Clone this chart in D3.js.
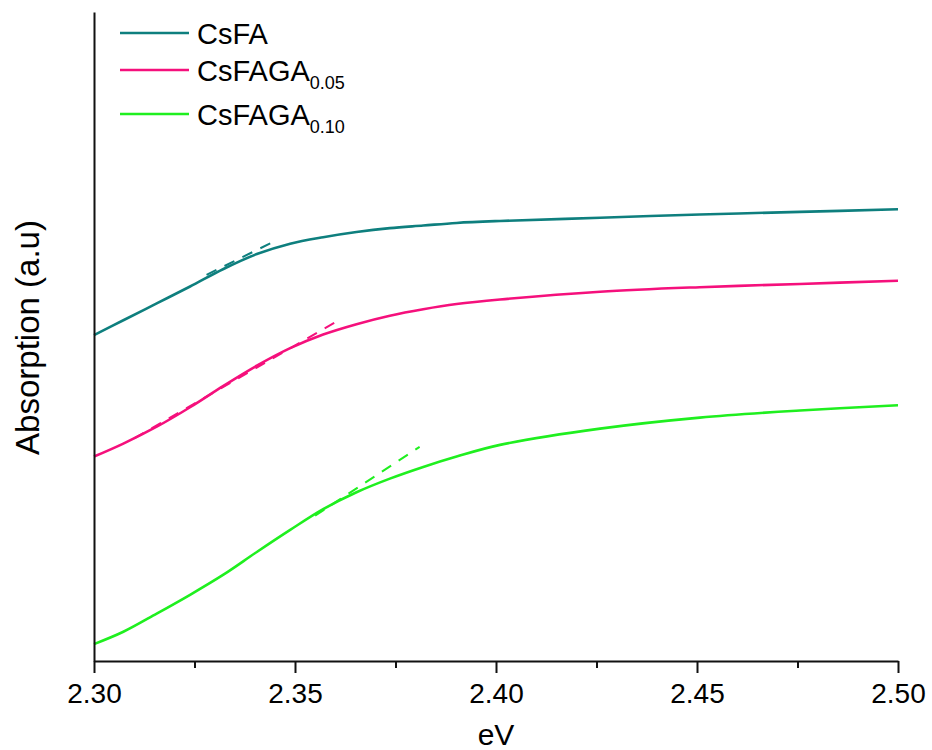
<!DOCTYPE html>
<html>
<head>
<meta charset="utf-8">
<script src="https://cdn.jsdelivr.net/npm/d3@7"></script>
<style>
  html, body { margin: 0; padding: 0; background: #fff; }
  svg { display: block; font-family: "Liberation Sans", Arial, sans-serif; }
</style>
</head>
<body>
<svg id="chart" width="932" height="750"></svg>
<script>
// ---- data ----
const energy = [2.3000, 2.3073, 2.3156, 2.3239, 2.3322, 2.3405, 2.3488, 2.3570, 2.3653, 2.3736, 2.3819, 2.3902, 2.4010, 2.4259, 2.4507, 2.4756, 2.5000];
const csFA      = [0.502, 0.525, 0.551, 0.577, 0.604, 0.627, 0.643, 0.653, 0.661, 0.667, 0.671, 0.675, 0.678, 0.683, 0.688, 0.692, 0.696];
const csFAGA005 = [0.315, 0.335, 0.361, 0.391, 0.424, 0.455, 0.482, 0.503, 0.519, 0.532, 0.542, 0.550, 0.557, 0.569, 0.576, 0.581, 0.586];
const csFAGA010 = [0.026, 0.045, 0.073, 0.102, 0.133, 0.168, 0.202, 0.234, 0.260, 0.281, 0.299, 0.315, 0.333, 0.358, 0.375, 0.386, 0.394];

// linear fits (band-edge tangents): [start eV, end eV], [start value, end value]
const fitCsFA_x      = [2.328, 2.344];
const fitCsFA_y      = [0.595, 0.644];
const fitCsFAGA005_x = [2.310, 2.360];
const fitCsFAGA005_y = [0.343, 0.522];
const fitCsFAGA010_x = [2.355, 2.381];
const fitCsFAGA010_y = [0.224, 0.330];

const seriesNames = ["CsFA", "CsFAGA", "CsFAGA"];
const seriesSubs  = ["", "0.05", "0.10"];
const seriesColors = ["#0e7f7e", "#f5107c", "#1fef1f"];

const xMajorTicks = [2.30, 2.35, 2.40, 2.45, 2.50];
const xMinorTicks = [2.325, 2.375, 2.425, 2.475];
const xLabel = "eV";
const yLabel = "Absorption (a.u)";

// ---- layout ----
const svg = d3.select("#chart");
const mLeft = 94, mRight = 898, mTop = 12, mBottom = 661;

const x = d3.scaleLinear().domain([2.30, 2.50]).range([mLeft, mRight]);
const y = d3.scaleLinear().domain([0, 1]).range([mBottom, mTop]);

const series = [csFA, csFAGA005, csFAGA010];
const fits = [
  [fitCsFA_x, fitCsFA_y],
  [fitCsFAGA005_x, fitCsFAGA005_y],
  [fitCsFAGA010_x, fitCsFAGA010_y]
];

const line = d3.line()
  .x(d => x(d[0]))
  .y(d => y(d[1]))
  .curve(d3.curveCatmullRom.alpha(0.5));

// curves
series.forEach((vals, i) => {
  svg.append("path")
    .datum(energy.map((e, k) => [e, vals[k]]))
    .attr("d", line)
    .attr("fill", "none")
    .attr("stroke", seriesColors[i])
    .attr("stroke-width", 2.6)
    .attr("stroke-linejoin", "round");
});

// dashed fit lines
fits.forEach((f, i) => {
  svg.append("path")
    .datum(f[0].map((e, k) => [e, f[1][k]]))
    .attr("d", d3.line().x(d => x(d[0])).y(d => y(d[1])))
    .attr("fill", "none")
    .attr("stroke", seriesColors[i])
    .attr("stroke-width", 2)
    .attr("stroke-dasharray", "11,9");
});

// axes
const xAxis = svg.append("g")
  .attr("transform", `translate(0,${mBottom})`)
  .call(d3.axisBottom(x).tickValues(xMajorTicks).tickFormat(d3.format(".2f")).tickSize(12).tickSizeOuter(0).tickPadding(10));
xAxis.select(".domain").attr("stroke", "#111").attr("stroke-width", 2);
xAxis.selectAll(".tick line").attr("stroke", "#111").attr("stroke-width", 2);
xAxis.selectAll(".tick text").attr("font-size", 28).attr("fill", "#000")
  .attr("font-family", "'Liberation Sans', Arial, sans-serif");

const xMinor = svg.append("g")
  .attr("transform", `translate(0,${mBottom})`)
  .call(d3.axisBottom(x).tickValues(xMinorTicks).tickSize(7).tickSizeOuter(0).tickFormat(""));
xMinor.select(".domain").remove();
xMinor.selectAll(".tick line").attr("stroke", "#111").attr("stroke-width", 2);

const yAxis = svg.append("g")
  .attr("transform", `translate(${mLeft},0)`)
  .call(d3.axisLeft(y).tickValues([]).tickSizeOuter(0));
yAxis.select(".domain").attr("stroke", "#111").attr("stroke-width", 2);

// axis labels
svg.append("text")
  .attr("x", (mLeft + mRight) / 2)
  .attr("y", 745)
  .attr("text-anchor", "middle")
  .attr("font-size", 30)
  .attr("fill", "#000")
  .text(xLabel);

svg.append("text")
  .attr("transform", `translate(39,${(mTop + mBottom) / 2 + 1}) rotate(-90)`)
  .attr("text-anchor", "middle")
  .attr("font-size", 33)
  .attr("fill", "#000")
  .text(yLabel);

// legend
const legendY = [33, 70, 114];
seriesNames.forEach((name, i) => {
  const g = svg.append("g");
  g.append("line")
    .attr("x1", 120).attr("x2", 189)
    .attr("y1", legendY[i]).attr("y2", legendY[i])
    .attr("stroke", seriesColors[i])
    .attr("stroke-width", 2.6);
  const t = g.append("text")
    .attr("x", 197)
    .attr("y", legendY[i] + 10.5)
    .attr("font-size", 29)
    .attr("fill", "#000");
  t.append("tspan").text(name);
  if (seriesSubs[i]) {
    t.append("tspan")
      .attr("font-size", 18)
      .attr("dy", 8)
      .text(seriesSubs[i]);
  }
});
</script>
</body>
</html>
